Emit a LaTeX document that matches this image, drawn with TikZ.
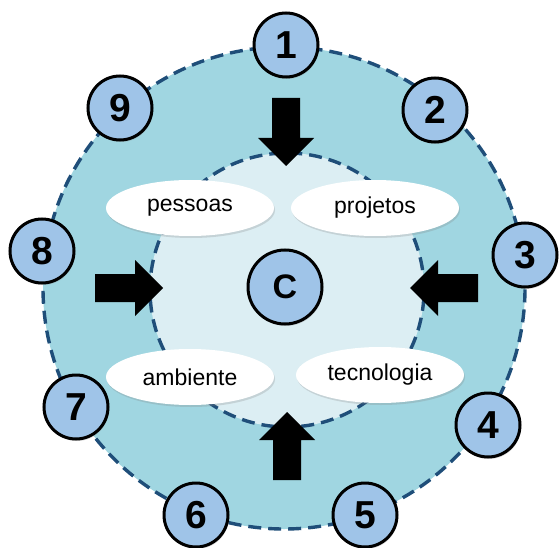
\documentclass[tikz,border=0pt]{standalone}
\usepackage{fontspec}
\setmainfont{Liberation Sans}
\usetikzlibrary{shapes.geometric,shadows}
\definecolor{ringfill}{HTML}{A0D6E1}
\definecolor{innerfill}{HTML}{DCEEF3}
\definecolor{dashblue}{HTML}{1F4E79}
\definecolor{numfill}{HTML}{9FC4E8}
\tikzset{
  ring/.style={circle, draw=dashblue, line width=3.4pt, dash pattern=on 13pt off 7pt, inner sep=0pt},
  numcirc/.style={circle, draw=black, line width=3pt, fill=numfill, minimum size=64pt, inner sep=0pt,
    font=\fontsize{39}{39}\selectfont\bfseries,
    drop shadow={shadow xshift=1pt, shadow yshift=-2pt, opacity=0.3}},
  topic/.style={ellipse, fill=white, minimum width=168pt, minimum height=56pt, inner sep=0pt,
    font=\fontsize{23}{23}\selectfont,
    drop shadow={shadow xshift=1pt, shadow yshift=-2pt, opacity=0.25}},
  blockarrow/.pic={\fill[black] (0,0) -- (-28,-28) -- (-28,-14) -- (-68,-14) -- (-68,14) -- (-28,14) -- (-28,28) -- cycle;}
}
\begin{document}
\begin{tikzpicture}[x=1pt,y=-1pt]
\useasboundingbox (0,0) rectangle (559,548);
% rings
\node[ring, fill=ringfill, minimum size=482pt] (outer) at (284,288) {};
\node[ring, fill=innerfill, minimum size=274pt] (inner) at (287,290) {};
% arrows
\pic[rotate=-90] at (286,166) {blockarrow};
\pic[rotate=0] at (163,288) {blockarrow};
\pic[rotate=180] at (410,288) {blockarrow};
\pic[rotate=90] at (287,412) {blockarrow};
% topics
\node[topic] (pessoas) at (190,208) {pessoas};
\node[topic] (projetos) at (375,208) {projetos};
\node[topic] (ambiente) at (190,377) {ambiente};
\node[topic] (tecnologia) at (380,375) {tecnologia};
% numbered circles
\node[numcirc] (n1) at (286,45) {1};
\node[numcirc] (n2) at (435,110) {2};
\node[numcirc] (n3) at (525,255) {3};
\node[numcirc] (n4) at (488,425) {4};
\node[numcirc] (n5) at (365,515) {5};
\node[numcirc] (n6) at (196,515) {6};
\node[numcirc] (n7) at (76,407) {7};
\node[numcirc] (n8) at (42,251) {8};
\node[numcirc] (n9) at (120,108) {9};
\node[numcirc, minimum size=74pt, font=\fontsize{34}{34}\selectfont\bfseries] (c) at (285,287) {C};
\end{tikzpicture}
\end{document}
